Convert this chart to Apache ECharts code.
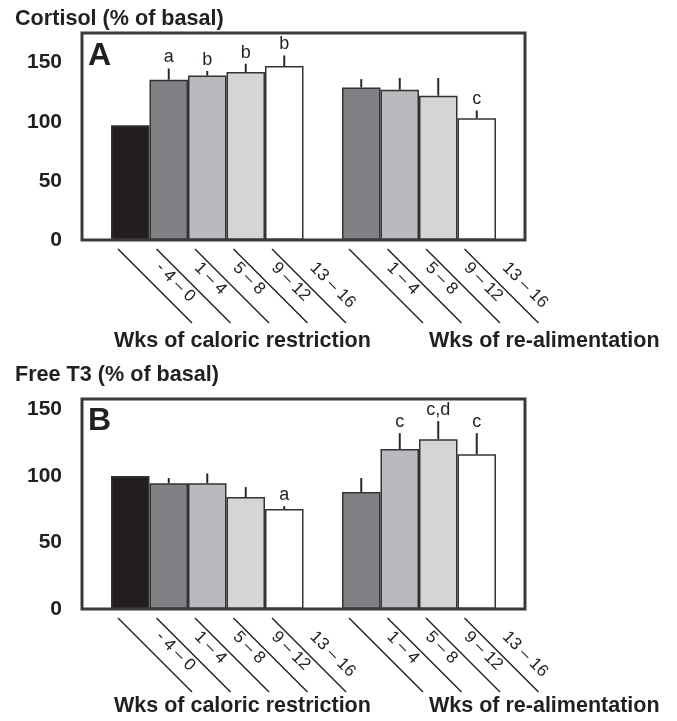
<!DOCTYPE html>
<html>
<head>
<meta charset="utf-8">
<script src="https://cdn.jsdelivr.net/npm/echarts@6/dist/echarts.min.js"></script>
<style>html,body{margin:0;padding:0;background:#fff}#c{width:677px;height:721px}</style>
</head>
<body>
<div id="c"></div>
<script>
const categories = ['- 4 – 0', '1 – 4', '5 – 8', '9 – 12', '13 – 16', '', '1 – 4', '5 – 8', '9 – 12', '13 – 16'];
const cortisolMean = [97, 135.5, 139, 142, 147, null, 129, 127, 122, 103];
const cortisolSem = [0, 9.5, 4, 7, 9, null, 7, 10, 15, 6.5];
const cortisolLetters = ['', 'a', 'b', 'b', 'b', '', '', '', '', 'c'];
const t3Mean = [100, 94.7, 94.7, 84.2, 75.2, null, 88, 120.3, 127.8, 116.5];
const t3Sem = [0, 3.8, 7.3, 7.5, 2.2, null, 10.5, 12, 13.6, 15.8];
const t3Letters = ['', '', '', '', 'a', '', '', 'c', 'c,d', 'c'];
const yTicks = [0, 50, 100, 150];
const barColors = ['#231f20', '#808184', '#b9babd', '#d4d5d7', '#ffffff', null, '#808184', '#b9babd', '#d4d5d7', '#ffffff'];

const FONT = '"Liberation Sans", Arial, sans-serif';
const INK = '#231f20';

const chart = echarts.init(document.getElementById('c'), null, {renderer: 'canvas'});

function barData(means) {
  return means.map((v, i) => v == null ? null : {
    value: v,
    itemStyle: {color: barColors[i], borderColor: '#333', borderWidth: 1.5}
  });
}
function errData(means, sems) {
  const out = [];
  means.forEach((v, i) => { if (v != null) out.push([i, v, v + sems[i]]); });
  return out;
}
function errSeries(means, sems, letters, idx) {
  const data = errData(means, sems);
  return {
    type: 'custom', xAxisIndex: idx, yAxisIndex: idx, clip: false, z: 5,
    data: data,
    renderItem: function (params, api) {
      const i = api.value(0);
      const p0 = api.coord([i, api.value(1)]);
      const p1 = api.coord([i, api.value(2)]);
      const children = [];
      if (p0[1] - p1[1] > 0.5) {
        children.push({type: 'line', shape: {x1: p0[0], y1: p0[1], x2: p1[0], y2: p1[1]},
          style: {stroke: '#2a2a2a', lineWidth: 2}});
      }
      const letter = letters[i];
      if (letter) {
        children.push({type: 'text', style: {x: p1[0], y: p1[1] - 2, text: letter,
          fill: INK, font: '18px ' + FONT, textAlign: 'center', textVerticalAlign: 'bottom'}});
      }
      return {type: 'group', children: children};
    }
  };
}
function diagSeries(idx) {
  const data = [];
  categories.forEach((c, i) => { if (c) data.push([i, 0]); });
  return {
    type: 'custom', xAxisIndex: idx, yAxisIndex: idx, clip: false, silent: true,
    data: data,
    renderItem: function (params, api) {
      const c = api.coord([api.value(0), 0]);
      const w = api.size([1, 0])[0];
      const x0 = c[0] - w / 2 + 7;
      const y0 = c[1] + 9;
      return {type: 'line', shape: {x1: x0, y1: y0, x2: x0 + 74, y2: y0 + 74},
        style: {stroke: '#222', lineWidth: 1.4}};
    }
  };
}

const frameGrid = (top, bottom) => ({left: 82, right: 152, top: top, bottom: bottom, show: true,
  borderColor: '#3a3a3a', borderWidth: 3, backgroundColor: 'transparent', z: 10, outerBoundsMode: 'none', containLabel: false});
const innerGrid = (top, bottom) => ({left: 111, right: 181, top: top, bottom: bottom, outerBoundsMode: 'none', containLabel: false});

const xCat = (g) => ({
  type: 'category', gridIndex: g, data: categories, boundaryGap: true,
  axisLine: {show: false}, axisTick: {show: false}, splitLine: {show: false},
  axisLabel: {interval: 0, rotate: -45, margin: -3, padding: [0, 0, 0, 40],
    color: INK, fontSize: 17, fontFamily: FONT, hideOverlap: false}
});
const yVal = (g, max) => ({
  type: 'value', gridIndex: g, min: 0, max: max, interval: 50,
  axisLine: {show: false}, axisTick: {show: false}, splitLine: {show: false},
  axisLabel: {margin: 49, color: INK, fontSize: 21, fontWeight: 'bold', fontFamily: FONT,
    showMaxLabel: false, formatter: v => yTicks.includes(v) ? String(v) : ''}
});
const hiddenX = (g) => ({type: 'value', gridIndex: g, show: false, min: 0, max: 1});
const hiddenY = (g) => ({type: 'value', gridIndex: g, show: false, min: 0, max: 1});

const titleStyle = (size) => ({color: INK, fontSize: size, fontWeight: 'bold', fontFamily: FONT});

chart.setOption({
  animation: false,
  backgroundColor: '#fff',
  title: [
    {text: 'Cortisol (% of basal)', left: 15, top: 8, textStyle: titleStyle(21.6), padding: 0},
    {text: 'A', left: 88, top: 40, textStyle: titleStyle(32), padding: 0},
    {text: 'Wks of caloric restriction', left: 114, top: 330, textStyle: titleStyle(21.5), padding: 0},
    {text: 'Wks of re-alimentation', left: 429, top: 330, textStyle: titleStyle(21.5), padding: 0},
    {text: 'Free T3 (% of basal)', left: 15, top: 364, textStyle: titleStyle(21.6), padding: 0},
    {text: 'B', left: 88, top: 405, textStyle: titleStyle(32), padding: 0},
    {text: 'Wks of caloric restriction', left: 114, top: 695, textStyle: titleStyle(21.5), padding: 0},
    {text: 'Wks of re-alimentation', left: 429, top: 695, textStyle: titleStyle(21.5), padding: 0}
  ],
  grid: [frameGrid(33, 481), innerGrid(33, 481), frameGrid(399, 112), innerGrid(399, 112)],
  xAxis: [hiddenX(0), xCat(1), hiddenX(2), xCat(3)],
  yAxis: [hiddenY(0), yVal(1, 175), hiddenY(2), yVal(3, 158)],
  series: [
    {type: 'bar', xAxisIndex: 1, yAxisIndex: 1, barCategoryGap: 0, barGap: 0, data: barData(cortisolMean)},
    errSeries(cortisolMean, cortisolSem, cortisolLetters, 1),
    diagSeries(1),
    {type: 'bar', xAxisIndex: 3, yAxisIndex: 3, barCategoryGap: 0, barGap: 0, data: barData(t3Mean)},
    errSeries(t3Mean, t3Sem, t3Letters, 3),
    diagSeries(3)
  ]
});
</script>
</body>
</html>
